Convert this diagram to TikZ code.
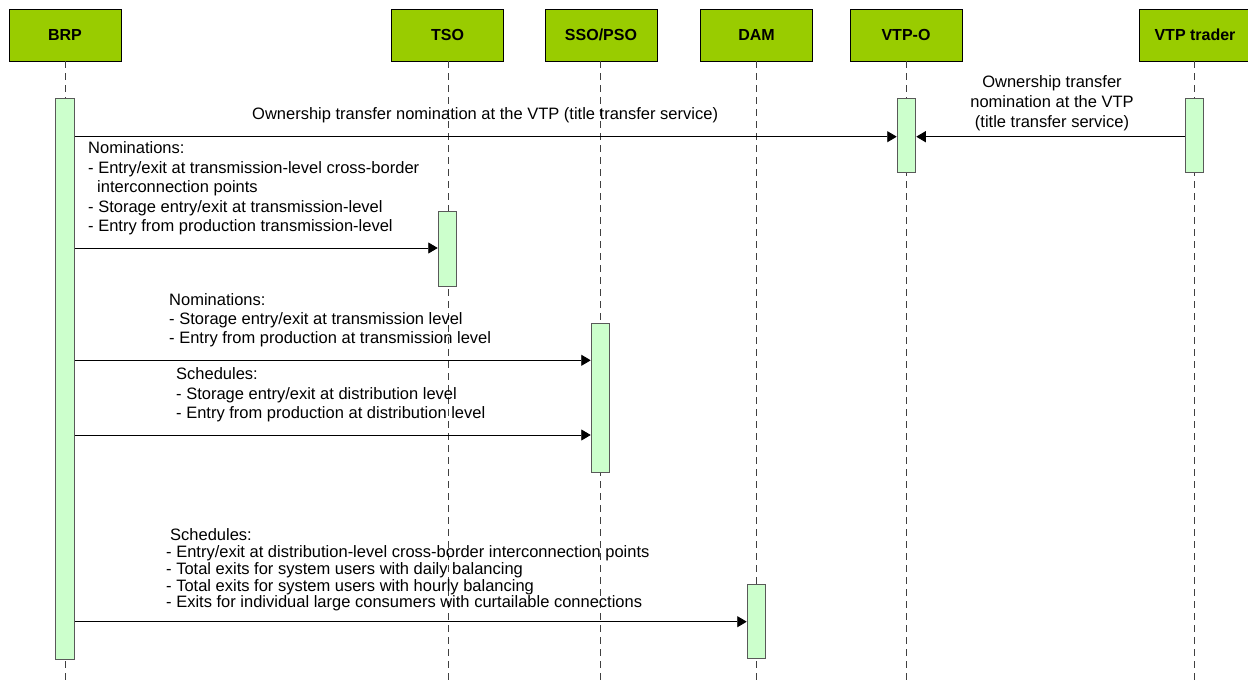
\documentclass[tikz,border=0pt]{standalone}
\usepackage{fontspec}
\setmainfont{Liberation Sans}
\usetikzlibrary{arrows.meta}
\definecolor{hdrgreen}{HTML}{99CC00}
\definecolor{barmint}{HTML}{CCFFCC}
\definecolor{lifegray}{HTML}{404040}
\begin{document}
\begin{tikzpicture}[x=1pt,y=-1pt,
  header/.style={draw=black, line width=0.9pt, fill=hdrgreen, minimum width=112pt,
    minimum height=52pt, inner sep=0pt, font=\fontsize{16}{19}\selectfont\bfseries},
  actbar/.style={draw=black!65, line width=1pt, fill=barmint, minimum width=18.5pt, inner sep=0pt},
  lifeline/.style={draw=lifegray, line width=0.8pt, dash pattern=on 7pt off 5pt},
  msg/.style={draw=black, line width=0.9pt, -{Triangle[length=9.5pt,width=11pt]}},
  msgtext/.style={inner sep=0pt, align=left, anchor=north west, font=\fontsize{16.5}{19.5}\selectfont},
]
\useasboundingbox (0,0) rectangle (1248,682);
\fill[white] (0,0) rectangle (1248,682);

% participants
\node[header] (brp)    at (65,35)     {BRP};
\node[header] (tso)    at (447.5,35)  {TSO};
\node[header] (sso)    at (601,35)    {SSO/PSO};
\node[header] (dam)    at (756.5,35)  {DAM};
\node[header] (vtpo)   at (906,35)    {VTP-O};
\node[header] (trader) at (1195,35)   {VTP trader};

% lifelines
\coordinate (bottom) at (0,682);
\draw[lifeline] (brp.south)    -- (brp.south |- bottom);
\draw[lifeline] ([xshift=0.5pt]tso.south) -- ([xshift=0.5pt]tso.south |- bottom);
\draw[lifeline] ([xshift=-1pt]sso.south)  -- ([xshift=-1pt]sso.south |- bottom);
\draw[lifeline] (dam.south)    -- (dam.south |- bottom);
\draw[lifeline] ([xshift=0.5pt]vtpo.south) -- ([xshift=0.5pt]vtpo.south |- bottom);
\draw[lifeline] ([xshift=-1pt]trader.south) -- ([xshift=-1pt]trader.south |- bottom);

% activation bars
\node[actbar, minimum height=560pt] (brpbar)    at (65,379)     {};
\node[actbar, minimum height=75pt]  (tsobar)    at (447.5,248.5) {};
\node[actbar, minimum height=149pt] (ssobar)    at (600.5,397.5) {};
\node[actbar, minimum height=74pt]  (dambar)    at (756.5,621)  {};
\node[actbar, minimum height=74pt]  (vtpobar)   at (906.5,136)  {};
\node[actbar, minimum height=74pt]  (traderbar) at (1194.5,136) {};

% messages
\draw[msg] (brpbar.east |- 0,136.7) -- (vtpobar.west |- 0,136.7);
\draw[msg] (traderbar.west |- 0,136.7) -- (vtpobar.east |- 0,136.7);
\draw[msg] (brpbar.east |- 0,248) -- (tsobar.west |- 0,248);
\draw[msg] (brpbar.east |- 0,360.3) -- (ssobar.west |- 0,360.3);
\draw[msg] (brpbar.east |- 0,435) -- (ssobar.west |- 0,435);
\draw[msg] (brpbar.east |- 0,621.7) -- (dambar.west |- 0,621.7);

% message labels
\node[inner sep=0pt, anchor=base west, font=\fontsize{16.5}{19.5}\selectfont] (lblvtp) at (252,119.3)
  {Ownership transfer nomination at the VTP (title transfer service)};
\node[inner sep=0pt, anchor=north, align=center, font=\fontsize{16.5}{20}\selectfont] (lbltrader) at (1052,73)
  {\strut Ownership transfer\\nomination at the VTP\\(title transfer service)};
\node[msgtext] (lbltso) at (88,139.65)
  {\strut Nominations:\\
   - Entry/exit at transmission-level cross-border\\
   \hspace*{9pt}interconnection points\\
   - Storage entry/exit at transmission-level\\
   - Entry from production transmission-level};
\node[msgtext, font=\fontsize{16.5}{19.4}\selectfont] (lblssonom) at (169,291.4)
  {\strut Nominations:\\
   - Storage entry/exit at transmission level\\
   - Entry from production at transmission level};
\node[msgtext, font=\fontsize{16.5}{19.6}\selectfont] (lblssosch) at (176,365.6)
  {\strut Schedules:\\
   - Storage entry/exit at distribution level\\
   - Entry from production at distribution level};
\node[msgtext, font=\fontsize{16.5}{16.6}\selectfont] (lbldam) at (166,527.9)
  {\strut\hspace*{4pt}Schedules:\\
   - Entry/exit at distribution-level cross-border interconnection points\\
   - Total exits for system users with daily balancing\\
   - Total exits for system users with hourly balancing\\
   - Exits for individual large consumers with curtailable connections};
\end{tikzpicture}
\end{document}
